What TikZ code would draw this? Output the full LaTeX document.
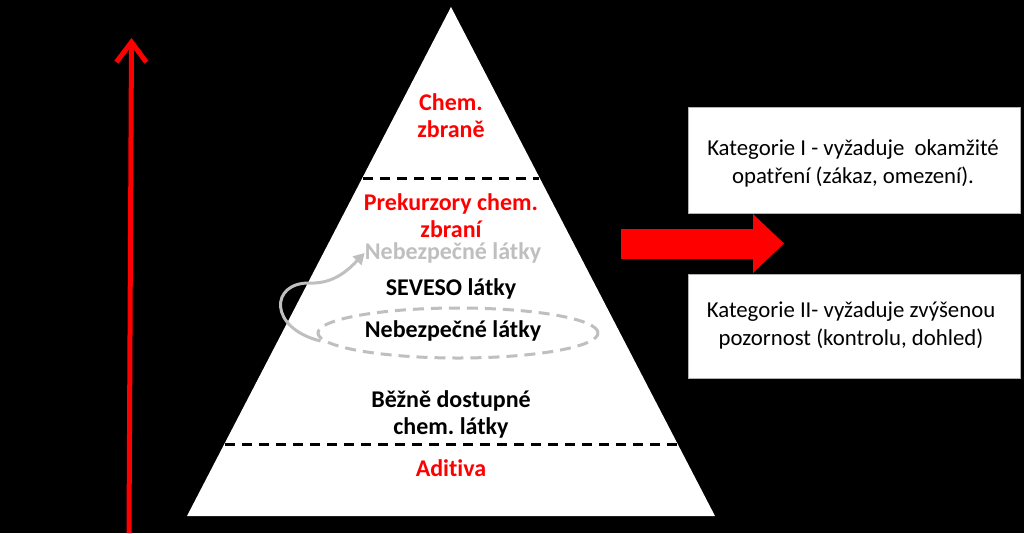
\documentclass[tikz,border=0pt]{standalone}
\usepackage{fontspec}
\setmainfont{Carlito}[Ligatures=NoCommon]
\usetikzlibrary{arrows.meta,shapes.geometric}
\definecolor{rd}{RGB}{255,0,0}
\definecolor{gr}{RGB}{191,191,191}
\tikzset{
  lbl/.style={align=center,font=\fontsize{24}{27}\selectfont\bfseries,inner sep=0pt},
  boxtxt/.style={align=center,font=\fontsize{22.8}{28}\selectfont,inner sep=0pt},
  catbox/.style={fill=white,draw=gray!60,line width=0.8pt},
  divider/.style={black,line width=3pt,dash pattern=on 10pt off 7pt},
}
\frenchspacing
\begin{document}
\begin{tikzpicture}[x=1pt,y=-1pt]
\useasboundingbox (0,0) rectangle (1024,533);
\fill[black] (0,0) rectangle (1024,533);
% pyramid
\fill[white] (451,7) -- (715,516) -- (187,516) -- cycle;
\coordinate (d1l) at (363,178); \coordinate (d1r) at (539,178);
\coordinate (d2l) at (225,444); \coordinate (d2r) at (677,444);
\draw[divider] (d1l) -- (d1r);
\draw[divider] (d2l) -- (d2r);
% texts
\node[lbl,text=rd] (chem) at (451,115.5) {Chem.\\zbraně};
\node[lbl,text=rd] (prek) at (451,216) {Prekurzory chem.\\zbraní};
\node[lbl,text=gr] (nebg) at (453,253) {Nebezpečné látky};
\node[lbl] (sev) at (451,289) {SEVESO látky};
\node[draw=gr,dashed,dash pattern=on 11pt off 7pt,line width=3pt,ellipse,minimum width=280pt,minimum height=50pt] (ell) at (458,333) {};
\node[lbl] (neb) at (453,331) {Nebezpečné látky};
\node[lbl] (bez) at (451,414.5) {Běžně dostupné\\chem. látky};
\node[lbl,text=rd] (adi) at (451,468) {Aditiva};
% curved gray arrow
\draw[gr,line width=3pt,-{Triangle[length=11pt,width=12pt]}] (ell.west) ++(4,8) .. controls (268,328) and (270,282) .. (310,283) .. controls (335,284) and (350,268) .. (nebg.west);
% vertical red arrow
\coordinate (vb) at (129,533); \coordinate (vt) at (131.5,38);
\draw[rd,line width=5pt,-{Straight Barb[length=20pt,width=30pt,line width=5pt]}] (vb) -- (vt);
% block arrow
\fill[rd] (621,229) -- (753,229) -- (753,214) -- (784,243.5) -- (753,273) -- (753,259) -- (621,259) -- cycle;
% boxes
\node[catbox,minimum width=332pt,minimum height=106pt,anchor=north west] (k1) at (688,107) {};
\node[catbox,minimum width=332pt,minimum height=104pt,anchor=north west] (k2) at (688,274) {};
\node[boxtxt] (t1) at (853,163) {Kategorie I - vyžaduje\ \ okamžité\\opatření (zákaz, omezení).};
\node[boxtxt] (t2) at (851,325.5) {Kategorie II- vyžaduje zvýšenou\\pozornost (kontrolu, dohled)};
\end{tikzpicture}
\end{document}
